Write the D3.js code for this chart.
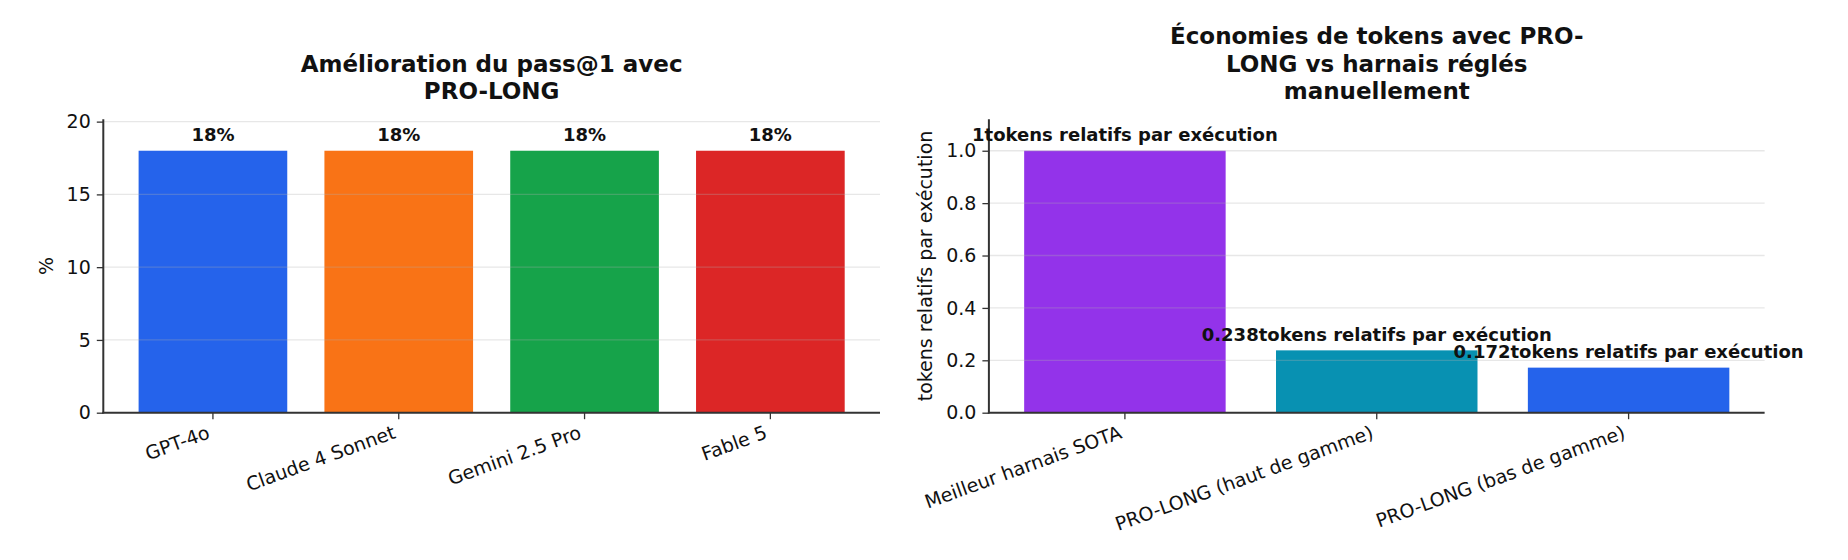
<!DOCTYPE html>
<html>
<head>
<meta charset="utf-8">
<script src="https://cdn.jsdelivr.net/npm/d3@7"></script>
<style>
  body { margin: 0; background: #fff; }
  svg { display: block; font-family: "DejaVu Sans", sans-serif; }
</style>
</head>
<body>
<div id="chart"></div>
<script>
// left panel data
var passModels = ["GPT-4o", "Claude 4 Sonnet", "Gemini 2.5 Pro", "Fable 5"];
var passGain = [18, 18, 18, 18];
var passTicks = [0, 5, 10, 15, 20];
var passColors = ["#2563eb", "#f97316", "#16a34a", "#dc2626"];

// right panel data
var tokenHarness = ["Meilleur harnais SOTA", "PRO-LONG (haut de gamme)", "PRO-LONG (bas de gamme)"];
var tokenRelative = [1, 0.238, 0.172];
var tokenTicks = [0, 0.2, 0.4, 0.6, 0.8, 1.0];
var tokenColors = ["#9333ea", "#0891b2", "#2563eb"];

var width = 1848;
var height = 560;

var svg = d3.select("#chart")
  .append("svg")
  .attr("width", width)
  .attr("height", height);

// draws one bar panel, matplotlib-like
function barPanel(cfg) {
  var top = 119.3, bottom = 412.7;

  var x = d3.scaleBand()
    .domain(cfg.cats)
    .range([cfg.left, cfg.right])
    .paddingInner(0.2)
    .paddingOuter(cfg.outer);

  var y = d3.scaleLinear()
    .domain([0, d3.max(cfg.vals) * 1.12])
    .range([bottom, top]);

  var g = svg.append("g");

  // bars
  g.selectAll(".bar")
    .data(cfg.vals)
    .enter().append("rect")
    .attr("class", "bar")
    .attr("x", (d, i) => x(cfg.cats[i]))
    .attr("y", d => y(d))
    .attr("width", x.bandwidth())
    .attr("height", d => bottom - y(d))
    .style("fill", (d, i) => cfg.colors[i]);

  // grid on top of the bars, like axisbelow='line'
  g.selectAll(".grid")
    .data(cfg.ticks)
    .enter().append("line")
    .attr("x1", cfg.left)
    .attr("x2", cfg.right)
    .attr("y1", d => y(d))
    .attr("y2", d => y(d))
    .style("stroke", "#b0b0b0")
    .style("stroke-opacity", 0.3)
    .style("stroke-width", 1.3);

  // y axis
  var yAxis = d3.axisLeft(y)
    .tickValues(cfg.ticks)
    .tickFormat(cfg.yFormat)
    .tickSize(6.5)
    .tickPadding(6);

  var ya = g.append("g")
    .attr("transform", `translate(${cfg.left},0)`)
    .call(yAxis);
  ya.select(".domain").remove();
  ya.selectAll("line").style("stroke", "#333").style("stroke-width", 1.3);
  ya.selectAll("text")
    .style("font-size", "19px")
    .style("fill", "#111")
    .attr("font-family", "DejaVu Sans");

  // x axis
  var xAxis = d3.axisBottom(x)
    .tickSize(6.5)
    .tickFormat("");

  var xa = g.append("g")
    .attr("transform", `translate(0,${bottom})`)
    .call(xAxis);
  xa.select(".domain").remove();
  xa.selectAll("line").style("stroke", "#333").style("stroke-width", 1.3);

  // rotated category labels
  g.selectAll(".xlab")
    .data(cfg.cats)
    .enter().append("text")
    .attr("class", "xlab")
    .attr("text-anchor", "end")
    .attr("transform", d => `translate(${x(d) + x.bandwidth() / 2 - 2},${bottom + 25}) rotate(-20)`)
    .style("font-size", "19px")
    .style("fill", "#111")
    .text(d => d);

  // spines
  g.append("line")
    .attr("x1", cfg.left).attr("x2", cfg.left)
    .attr("y1", top).attr("y2", bottom + 0.8)
    .style("stroke", "#333").style("stroke-width", 2);
  g.append("line")
    .attr("x1", cfg.left - 1).attr("x2", cfg.right)
    .attr("y1", bottom).attr("y2", bottom)
    .style("stroke", "#333").style("stroke-width", 2);

  // value labels
  g.selectAll(".val")
    .data(cfg.vals)
    .enter().append("text")
    .attr("class", "val")
    .attr("text-anchor", "middle")
    .attr("x", (d, i) => x(cfg.cats[i]) + x.bandwidth() / 2)
    .attr("y", d => y(d) - 9.7)
    .style("font-size", "18px")
    .style("font-weight", "bold")
    .style("fill", "#111")
    .text(cfg.valFormat);

  // y label
  g.append("text")
    .attr("text-anchor", "middle")
    .attr("transform", `translate(${cfg.yLabelX},${(top + bottom) / 2}) rotate(-90)`)
    .style("font-size", "19px")
    .style("fill", "#111")
    .text(cfg.yLabel);

  // title, bottom aligned
  var cx = (cfg.left + cfg.right) / 2;
  var n = cfg.title.length;
  var t = g.append("text")
    .attr("text-anchor", "middle")
    .style("font-size", "23px")
    .style("font-weight", "bold")
    .style("fill", "#111");
  cfg.title.forEach((line, i) => {
    t.append("tspan")
      .attr("x", cx)
      .attr("y", 99.3 - (n - 1 - i) * 27.5)
      .text(line);
  });
}

barPanel({
  cats: passModels,
  vals: passGain,
  ticks: passTicks,
  colors: passColors,
  left: 103.3,
  right: 880,
  outer: 0.19,
  yFormat: d3.format("d"),
  valFormat: d => d + "%",
  yLabel: "%",
  yLabelX: 53,
  title: ["Amélioration du pass@1 avec", "PRO-LONG"]
});

barPanel({
  cats: tokenHarness,
  vals: tokenRelative,
  ticks: tokenTicks,
  colors: tokenColors,
  left: 988.9,
  right: 1764.6,
  outer: 0.14,
  yFormat: d3.format(".1f"),
  valFormat: d => d + "tokens relatifs par exécution",
  yLabel: "tokens relatifs par exécution",
  yLabelX: 932,
  title: ["Économies de tokens avec PRO-", "LONG vs harnais réglés", "manuellement"]
});
</script>
</body>
</html>
